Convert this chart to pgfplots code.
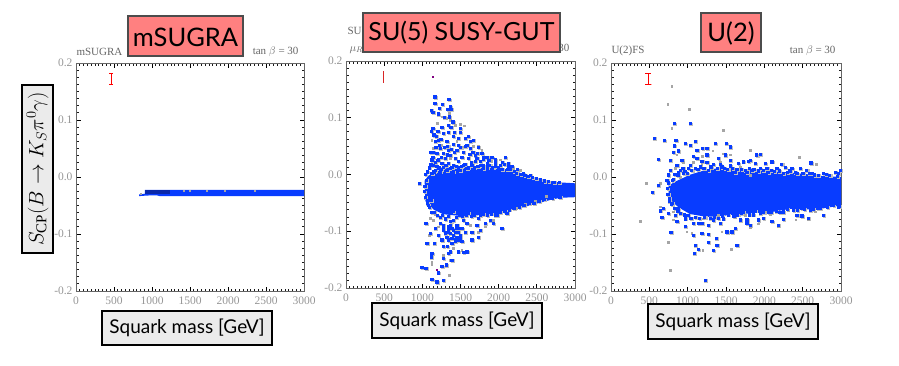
\documentclass[border=0pt]{standalone}
\usepackage{fontspec}
\setmainfont{Liberation Serif}
\newfontfamily\boxfont{Lato}
\usepackage{pgfplots}
\pgfplotsset{compat=1.18}
\definecolor{sqblue}{RGB}{8,60,255}
\definecolor{sqdark}{RGB}{10,40,170}
\definecolor{sqgray}{RGB}{165,165,165}
\definecolor{halogray}{RGB}{190,190,190}
\definecolor{salmon}{RGB}{255,128,128}
\definecolor{boxgray}{RGB}{235,235,235}
\definecolor{ticktext}{RGB}{150,150,150}
\pgfplotsset{
  panel/.style={
    scale only axis, xmin=0, xmax=3000, ymin=-0.2, ymax=0.2,
    xtick={0,500,1000,1500,2000,2500,3000}, ytick={-0.2,-0.1,0,0.1,0.2},
    minor x tick num=9, minor y tick num=7,
    tick align=inside, major tick length=4.5pt, minor tick length=2.5pt,
    tick style={black, line width=0.8pt}, minor tick style={black!90, line width=1pt},
    axis line style={black!60, line width=0.6pt},
    ticklabel style={font=\fontsize{11.5}{12}\selectfont, text=ticktext},
    xticklabel style={yshift=-2.5pt},
    x tick label style={/pgf/number format/.cd, set thousands separator={}, 1000 sep={}},
    y tick label style={/pgf/number format/.cd, fixed, fixed zerofill, precision=1},
    /pgf/number format/assume math mode=true,
    scaled ticks=false,
  },
  bluepts/.style={only marks, mark=square*, mark size=1.1pt, color=sqblue, mark options={draw=none, fill=sqblue}},
  graypts/.style={only marks, mark=square*, mark size=0.9pt, color=sqgray, mark options={draw=none, fill=sqgray}},
  halopts/.style={only marks, mark=square*, mark size=1.3pt, color=halogray, mark options={draw=none, fill=halogray, xshift=0.9pt, yshift=-0.7pt}},
  core/.style={draw=none, fill=sqblue},
}
\tikzset{
  titlebox/.style={draw=black!70, line width=1.1pt, fill=salmon},
  labbox/.style={draw=black, line width=1.8pt, fill=boxgray},
}
% plots a list of points kept in a macro
\newcommand\ptsplot[2]{\edef\tmp{\noexpand\addplot[#1] coordinates {#2};}\tmp}

\def\ptsSU{
(1161,.137) (1345,.132) (1161,.125) (1262,.124) (1362,.120) (1113,.114) (1222,.117) (1327,.115)
(1371,.115) (1205,.107) (1135,.110) (1283,.101) (1353,.102) (1397,.093) (1340,.087) (1371,.084)
(1253,.083) (1135,.081) (1493,.081) (1340,.075) (1414,.075) (1493,.074) (1117,.077) (1179,.068)
(1209,.060) (1275,.073) (1406,.067) (1471,.064) (1559,.064) (1602,.067) (1668,.061) (1624,.058)
(1580,.052) (1471,.052) (1406,.054) (1318,.058) (1222,.052) (1166,.058) (1144,.040) (1231,.046)
(1340,.043) (1449,.043) (1537,.040) (1624,.046) (1733,.048) (1777,.037) (1842,.031) (1690,.034)
(1362,.034) (1275,.037) (1187,.037) (1135,.030) (1122,.026) (1209,.026) (1297,.029) (1428,.029)
(1515,.030) (1602,.029) (1711,.029) (1799,.027) (1908,.030) (1952,.026) (2083,.030) (2017,.017)
(2170,.014) (2244,.009) (2323,.002) (2410,-.001) (1851,.019) (1755,.017) (1646,.017) (1537,.017)
(1406,.017) (1297,.017) (1187,.014) (1135,.017) (2126,.014) (1253,.020) (1362,.011) (1471,.023)
(1580,.011) (1690,.023) (1799,.011) (1952,.014) (1166,.008) (1318,.008) (1493,.008) (1122,.002)
(1231,.005) (1406,.005) (956,-.015)
(1060,.005) (1090,.012) (1110,.018) (1150,.005) (1170,.022) (1215,.012) (1240,.010) (1270,.013)
(1310,.016) (1340,.020) (1385,.013) (1440,.015) (1470,.012) (1510,.015) (1555,.018) (1600,.012)
(1640,.022) (1680,.012) (1725,.014) (1760,.024) (1800,.016) (1845,.012) (1880,.017) (1920,.012)
(1990,.012) (2040,.010) (2075,.018) (2110,.009) (2150,.010) (2200,.006) (2230,.003) (2290,.000)
(2340,-.001) (2380,-.003) (2440,-.005) (2490,-.007) (2540,-.009) (2600,-.011) (2650,-.012)
(2720,-.013) (2790,-.014)
(1110,.040) (1175,.048) (1240,.062) (1290,.048) (1330,.050) (1380,.045) (1420,.040) (1500,.048)
(1560,.050) (1620,.036) (1660,.040) (1720,.038) (1800,.030) (1870,.025) (1950,.020) (2050,.022)
(2120,.020) (1150,.070) (1200,.076) (1190,.025) (1250,.030) (1330,.035)
(1040,.0) (1050,-.01) (1030,-.02) (1025,-.03) (1035,-.04) (1060,-.045)
(1060,-.05) (1090,-.058) (1120,-.066) (1150,-.066) (1190,-.072) (1230,-.075) (1260,-.072)
(1300,-.078) (1340,-.073) (1370,-.082) (1440,-.075) (1480,-.072) (1520,-.074) (1570,-.072)
(1640,-.074) (1680,-.072) (1760,-.072) (1800,-.070) (1850,-.072) (1900,-.069) (1950,-.072)
(2020,-.066) (2080,-.064) (2140,-.062) (2200,-.060) (2270,-.057) (2330,-.054) (2400,-.051)
(2460,-.050) (2530,-.047) (2600,-.044) (2700,-.042) (2800,-.040)
(1043,-.086) (1078,-.054) (1109,-.045) (1100,-.104) (1056,-.121) (1152,-.121) (1209,-.107)
(1253,-.115) (1275,-.098) (1318,-.101) (1362,-.104) (1406,-.098) (1471,-.101) (1493,-.107)
(1559,-.101) (1646,-.101) (1755,-.098) (1733,-.110) (1646,-.115) (1515,-.118) (1428,-.118)
(1384,-.121) (1327,-.127) (1275,-.127) (1122,-.139) (1113,-.145) (1340,-.139) (1362,-.136)
(1471,-.136) (1537,-.137) (1580,-.136) (1384,-.151) (1275,-.148) (1310,-.159) (1253,-.162)
(991,-.164) (1043,-.165) (1209,-.173) (1122,-.185) (1187,-.189) (1275,-.186) (1231,-.086)
(1275,-.089) (1340,-.092) (1449,-.089) (1580,-.086) (1711,-.089) (1820,-.086) (1930,-.086)
(2039,-.095) (1886,-.080) (1973,-.071) (2104,-.068) (1406,-.065) (1602,-.068) (1733,-.077)
(1406,-.080) (1537,-.080) (1166,-.095)
(1275,-.095) (1297,-.104) (1340,-.098) (1384,-.095) (1428,-.101) (1471,-.095) (1493,-.112)
(1449,-.110) (1384,-.112) (1406,-.107) (1318,-.110) (1362,-.089) (1449,-.095) (1515,-.095)
(1340,-.115) (1428,-.115) (1471,-.115)}

\def\ptsU{
(821,.094) (1030,.094) (561,.068) (691,.064) (843,.064) (965,.059) (1030,.056) (1095,.063) (821,.055)
(1191,.051) (1248,.051) (1117,.047) (1356,.059) (1500,.059) (1552,.053) (813,.044) (878,.046) (1248,.039)
(1074,.036) (1117,.033) (1400,.033) (1487,.039) (1552,.030) (769,.030) (922,.030) (1182,.028) (1726,.027)
(1791,.028) (856,.021) (935,.016) (1030,.021) (1248,.026) (1335,.022) (1443,.018) (1552,.020) (1661,.024)
(769,.012) (878,.009) (748,.004) (1008,.015) (1095,.015) (1269,.012) (1617,.009) (1769,.009) (726,-.005)
(813,-.004) (617,.031) (943,.006)
(1899,.039) (1943,.040) (2604,.025) (1812,.029) (1878,.024) (2008,.024) (2095,.027) (1725,.027) (2225,.023)
(2269,.017) (2356,.015) (2465,.015) (2551,.012) (2769,.006) (2921,.009) (2964,.006) (1943,.015) (2160,.015)
(1747,.012) (1834,.012) (2052,.009) (2247,.006) (2421,.006) (2617,.006) (2803,.005)
(800,-.005) (830,.005) (870,.003) (900,.012) (960,.010) (990,.006) (1050,.012) (1130,.014) (1160,.018)
(1210,.016) (1300,.018) (1380,.016) (1420,.022) (1480,.016) (1520,.014) (1580,.016) (1640,.014) (1700,.014)
(1800,.015) (1860,.013) (1920,.011) (1980,.012) (2030,.016) (2090,.012) (2130,.010) (2190,.011) (2300,.009)
(2330,.011) (2400,.009) (2500,.007) (2580,.007) (2650,.004) (2700,.003) (2850,.003) (2950,.002) (2990,.012)
(745,-.010) (735,-.02) (740,-.03) (755,-.042)
(790,-.048) (830,-.055) (870,-.060) (900,-.063) (950,-.066) (1000,-.067) (1040,-.072) (1100,-.070) (1150,-.072)
(1220,-.070) (1290,-.072) (1350,-.070) (1400,-.072) (1450,-.068) (1530,-.066) (1600,-.068) (1650,-.066)
(1700,-.064) (1800,-.066) (1850,-.066) (1990,-.062) (2090,-.062) (2150,-.060) (2200,-.062) (2300,-.056)
(2430,-.058) (2520,-.056) (2640,-.056) (2690,-.054) (2820,-.053) (2900,-.050) (2980,-.051)
(1725,-.061) (1878,-.059) (1943,-.064) (2052,-.061) (2247,-.061) (2378,-.058) (2486,-.055) (2595,-.058)
(2725,-.055) (2964,-.052) (1769,-.075) (1986,-.072) (2095,-.078) (1921,-.075) (1812,-.084) (2182,-.084)
(2573,-.072) (2769,-.067) (2421,-.067) (2247,-.074) (2486,-.068)
(539,-.026) (613,-.014) (756,-.037) (791,-.046) (682,-.055) (639,-.059) (748,-.064) (661,-.071) (834,-.067)
(856,-.078) (965,-.073) (1074,-.081) (1182,-.081) (1269,-.084) (1421,-.081) (1508,-.096) (1617,-.090)
(1574,-.096) (778,-.097) (1182,-.099) (1269,-.100) (1074,-.102) (1369,-.107) (1269,-.114) (1378,-.119)
(1639,-.119) (1095,-.119) (1139,-.127) (1082,-.133) (1335,-.129) (1226,-.181) (965,-.087) (1335,-.075)
(1465,-.073) (1682,-.075) (1769,-.081) (1139,-.081) (878,-.055)}

\begin{document}
\begin{tikzpicture}[x=1pt,y=1pt]
\useasboundingbox (0,0) rectangle (899,365);
\fill[white] (0,0) rectangle (899,365);

% mSUGRA
\begin{axis}[panel, at={(76pt,74pt)}, anchor=south west, width=228pt, height=228pt]
\addplot[red, line width=0.7pt, no markers] coordinates {(435,.163) (485,.163) (460,.163) (460,.182) (435,.182) (485,.182)};
\addplot[core] coordinates {(830,-0.0335) (830,-0.0305) (905,-0.0295) (905,-0.0225) (3000,-0.0225) (3000,-0.0335) (1100,-0.0335) (1060,-0.032) (940,-0.0325)} --cycle;
\addplot[draw=none, fill=sqdark] coordinates {(908,-0.0225) (1237,-0.0225) (1237,-0.029) (908,-0.029)} --cycle;
\addplot[graypts, mark size=0.5pt] coordinates {(850,-0.0285) (1420,-0.0235) (1500,-0.0235) (1720,-0.0235) (1950,-0.0235) (2350,-0.0235)};
\end{axis}

% SU(5)
\begin{axis}[panel, at={(346pt,77pt)}, anchor=south west, width=229pt, height=227pt]
\addplot[red!70!gray, line width=0.8pt, no markers] coordinates {(485,.162) (485,.183)};
\ptsplot{halopts}{\ptsSU}
\addplot[graypts] coordinates {
(1196,.091) (1493,.089) (1546,.086) (1253,.102) (1318,.099) (1362,.096) (1122,.061) (1144,.046)
(1253,.052) (1733,.050) (1777,.043) (1428,.087) (1449,.058) (1524,.049) (1668,.050) (1908,.023)
(2192,.011) (2279,.007) (1362,.029) (2017,.026) (1864,.028) (1166,.125) (1353,.108)
(1166,-.071) (1100,-.077) (1091,-.107) (1122,-.154) (1362,-.151) (1353,-.177) (1122,-.159)
(1275,-.142) (1515,-.133) (1733,-.101) (1930,-.080) (1624,-.089) (1820,-.092) (1406,-.130)
(1209,-.092) (1144,-.080) (2230,-.060) (2350,-.052) (2480,-.047) (2620,-.038)};
\addplot[core] coordinates {
(1030,-.011) (1080,-.002) (1130,.001) (1200,.006) (1273,.010) (1400,.013) (1625,.013) (1800,.014) (1974,.012)
(2150,.008) (2260,.004) (2367,-.002) (2480,-.006) (2590,-.0095) (2700,-.012) (2810,-.014) (3000,-.0155)
(3000,-.040) (2810,-.041) (2700,-.044) (2590,-.048) (2480,-.052) (2367,-.056) (2260,-.060) (2150,-.063) (1974,-.069)
(1712,-.072) (1500,-.073) (1273,-.070) (1150,-.062) (1080,-.052) (1040,-.047)} --cycle;
\ptsplot{bluepts}{\ptsSU}
\addplot[only marks, mark=square*, mark size=0.5pt, color=violet, mark options={draw=none, fill=violet!70}] coordinates {(1135,.172) (1187,-.168)};
\end{axis}

% U(2)
\begin{axis}[panel, at={(611pt,74pt)}, anchor=south west, width=230pt, height=228pt]
\addplot[red, line width=0.9pt, no markers] coordinates {(445,.163) (527,.163) (486,.163) (486,.182) (445,.182) (527,.182)};
\ptsplot{halopts}{\ptsU}
\addplot[graypts] coordinates {
(791,.159) (739,.128) (1017,.119) (791,.085) (1465,.082) (1326,.046) (1191,.036) (621,.031)
(1552,.039) (1465,.041) (856,.039) (943,.026) (1074,.026) (1313,.015) (1682,.018) (834,.015)
(900,0) (639,-.011) (456,-.011) (1182,.022) (1421,.026) (1595,.015) (1813,.003) (1813,.047)
(1812,.047) (2456,.035) (2673,.023)
(1747,-.067) (1812,-.088) (1921,-.082) (2008,-.061) (2073,-.065) (2408,-.075) (2573,-.075)
(2182,-.086) (2312,-.058) (2660,-.061)
(748,-.114) (769,-.164) (987,-.096) (1565,-.127) (1195,-.129) (378,-.077) (813,-.075) (922,-.064)
(1204,-.073) (1400,-.067) (1617,-.070) (1443,-.096) (1052,-.099) (639,-.052) (813,-.061)};
\addplot[core] coordinates {
(750,-.015) (856,-.007) (1030,.004) (1248,.013) (1465,.016) (1682,.013) (1900,.011) (2117,.010) (2334,.008)
(2551,.005) (2725,.002) (3000,0)
(3000,-.050) (2769,-.055) (2551,-.057) (2334,-.056) (2117,-.061) (1900,-.063) (1682,-.065) (1465,-.068)
(1248,-.070) (1030,-.065) (878,-.053) (791,-.042) (750,-.032)} --cycle;
\ptsplot{bluepts}{\ptsU}
\end{axis}

% small headers from the original plots
\begin{scope}[font=\fontsize{11}{12}\selectfont, text=black!60]
\node[anchor=west] at (73,313) {mSUGRA};
\node[anchor=east] at (302,313) {tan $\beta$ = 30};
\node[anchor=west] at (344,333) {SU(5)};
\node[anchor=west] at (346,315) {$\mu_R$};
\node[anchor=east] at (573,316) {tan $\beta$ = 30};
\node[anchor=west] at (608,314) {U(2)FS};
\node[anchor=east] at (839,314) {tan $\beta$ = 30};
\end{scope}

% slide annotations
\begin{scope}[font=\boxfont]
\path[titlebox] (128,309) rectangle (243,349);
\node[font=\boxfont\fontsize{25.5}{26}\selectfont] at (185.5,328) {mSUGRA};
\path[titlebox] (363,313) rectangle (560,352);
\node[font=\boxfont\fontsize{25}{26}\selectfont] at (461.5,332) {SU(5) SUSY-GUT};
\path[titlebox] (701,313) rectangle (761,352);
\node[font=\boxfont\fontsize{25.5}{26}\selectfont] at (731,332) {U(2)};
\path[labbox] (102,20) rectangle (272,54);
\node[font=\boxfont\fontsize{19}{20}\selectfont] at (187,37) {Squark mass [GeV]};
\path[labbox] (372,27) rectangle (542,62);
\node[font=\boxfont\fontsize{19}{20}\selectfont] at (457,44.5) {Squark mass [GeV]};
\path[labbox] (648,26) rectangle (818,61);
\node[font=\boxfont\fontsize{19}{20}\selectfont] at (733,43.5) {Squark mass [GeV]};
\path[labbox] (22,112) rectangle (53,280);
\node[rotate=90, font=\fontsize{21.5}{23}\selectfont] at (37.5,196) {$S_{\mathrm{CP}}(B\to K_S\pi^0\gamma)$};
\end{scope}
\end{tikzpicture}
\end{document}
